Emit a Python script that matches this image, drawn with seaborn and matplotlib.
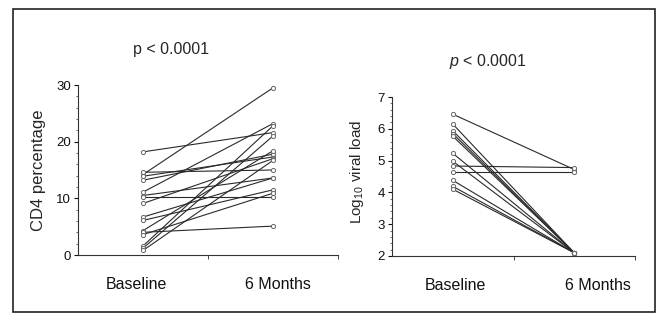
import numpy as np
import pandas as pd
import matplotlib
matplotlib.use("Agg")
import matplotlib.pyplot as plt
from matplotlib.patches import Rectangle
from matplotlib.ticker import MultipleLocator, FixedLocator
from matplotlib.transforms import ScaledTranslation
import seaborn as sns

# ---- data ----
timepoints = ["Baseline", "6 Months"]
cd4_baseline = [18.2, 14.2, 14.6, 13.9, 13.2, 11.1, 10.5, 10.2, 9.1, 6.7, 6.1, 4.3, 4.0, 3.6, 1.6, 1.2, 0.8]
cd4_6months = [21.6, 29.5, 15.0, 17.3, 17.8, 23.2, 13.6, 10.2, 17.0, 13.6, 11.5, 18.4, 5.1, 10.9, 22.8, 21.0, 16.7]
vl_baseline = [6.46, 6.15, 5.94, 5.85, 5.77, 5.23, 4.98, 4.83, 4.63, 4.38, 4.19, 4.10]
vl_6months = [4.72, 2.1, 2.1, 2.1, 2.1, 2.1, 2.1, 4.78, 4.63, 2.1, 2.1, 2.1]
title_left = "p < 0.0001"
title_right = r"$\mathit{p}$ < 0.0001"
ylabel_left = "CD4 percentage"
ylabel_right = r"Log$_{10}$ viral load"


def long_df(base, six):
    n = len(base)
    return pd.DataFrame({
        "subject": list(range(n)) * 2,
        "x": [0] * n + [1] * n,
        "value": list(base) + list(six),
    })


df_cd4 = long_df(cd4_baseline, cd4_6months)
df_vl = long_df(vl_baseline, vl_6months)

sns.set_theme(style="white")
plt.rcParams["font.family"] = ["Liberation Sans", "DejaVu Sans"]
plt.rcParams["mathtext.fontset"] = "custom"
plt.rcParams["mathtext.rm"] = "Liberation Sans"
plt.rcParams["mathtext.it"] = "Liberation Sans:italic"
plt.rcParams["mathtext.default"] = "regular"

fig = plt.figure(figsize=(6.62, 3.14), dpi=100)
fig.patch.set_facecolor("white")

ax1 = fig.add_axes([78 / 662, 1 - 255 / 314, 260 / 662, 170 / 314])
ax2 = fig.add_axes([392 / 662, 1 - 256 / 314, 243 / 662, 159 / 314])

line_color = "#2a2a2a"
for ax, df in ((ax1, df_cd4), (ax2, df_vl)):
    sns.lineplot(data=df, x="x", y="value", units="subject", estimator=None,
                 color=line_color, linewidth=0.8, ax=ax, legend=False)
    sns.scatterplot(data=df, x="x", y="value", ax=ax, s=9, marker="o",
                    facecolor="white", edgecolor="#666666", linewidth=0.7,
                    legend=False, zorder=3)
    ax.set_xlim(-0.5, 1.5)
    ax.set_xticks([0, 1])
    ax.set_xticklabels(timepoints, fontsize=11.5)
    ax.xaxis.set_minor_locator(FixedLocator([0.5, 1.5]))
    ax.tick_params(axis="x", which="major", length=0, pad=16, colors="#111111")
    ax.tick_params(axis="x", which="minor", length=3, width=0.7, direction="out",
                   color="#444444", bottom=True)
    ax.tick_params(axis="y", which="major", length=3, width=0.8, direction="out",
                   pad=2, labelsize=9.5, colors="#111111", left=True)
    ax.tick_params(axis="y", which="minor", length=1.5, width=0.6, direction="out",
                   color="#555555", left=True)
    ax.set_xlabel("")
    for s in ("top", "right"):
        ax.spines[s].set_visible(False)
    for s in ("left", "bottom"):
        ax.spines[s].set_color("#333333")
        ax.spines[s].set_linewidth(0.8)
    ax.set_facecolor("none")


def shift_labels(ax, offsets_px):
    for lab, dx in zip(ax.get_xticklabels(), offsets_px):
        lab.set_transform(lab.get_transform() +
                          ScaledTranslation(dx / 100, 0, fig.dpi_scale_trans))


shift_labels(ax1, [-7, 5])
shift_labels(ax2, [3, 24])

ax1.set_ylim(0, 30)
ax1.set_yticks([0, 10, 20, 30])
ax1.yaxis.set_minor_locator(MultipleLocator(2))
ax1.set_ylabel(ylabel_left, fontsize=12)
ax1.yaxis.set_label_coords(-0.125, 0.5)
ax1.text(0.358, 1.21, title_left, transform=ax1.transAxes, ha="center",
         va="center", fontsize=11.5)

ax2.set_ylim(2, 7)
ax2.set_yticks([2, 3, 4, 5, 6, 7])
ax2.yaxis.set_minor_locator(MultipleLocator(0.2))
ax2.set_ylabel(ylabel_right, fontsize=11)
ax2.yaxis.set_label_coords(-0.105, 0.53)
ax2.text(0.395, 1.226, title_right, transform=ax2.transAxes, ha="center",
         va="center", fontsize=11.5)

fig.patches.append(Rectangle((13 / 662, 2 / 314), (655 - 13) / 662, (312 - 9) / 314,
                             transform=fig.transFigure, fill=False,
                             edgecolor="#222222", linewidth=1.2))

fig.savefig("out.png", dpi=100, facecolor="white")
